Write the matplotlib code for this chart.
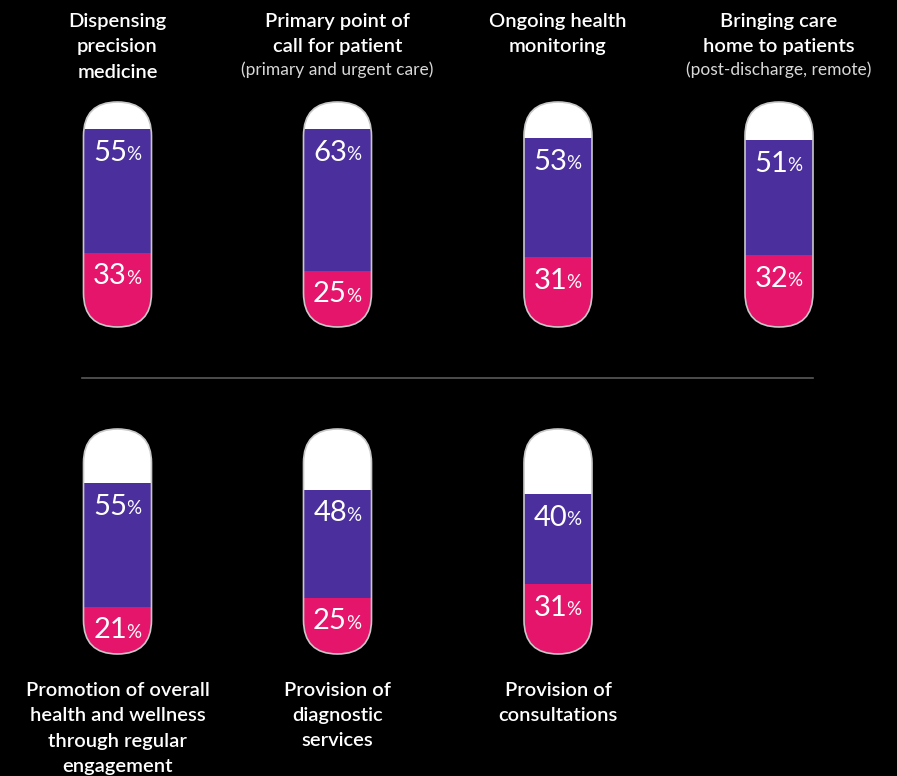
import matplotlib
matplotlib.use("Agg")
import matplotlib.pyplot as plt
from matplotlib.patches import FancyBboxPatch

plt.rcParams['font.family'] = ['Lato', 'DejaVu Sans']

# data
titles = ["Dispensing\nprecision\nmedicine",
          "Primary point of\ncall for patient",
          "Ongoing health\nmonitoring",
          "Bringing care\nhome to patients",
          "Promotion of overall\nhealth and wellness\nthrough regular\nengagement",
          "Provision of\ndiagnostic\nservices",
          "Provision of\nconsultations"]
subtitles = ["", "(primary and urgent care)", "", "(post-discharge, remote)", "", "", ""]
purple_vals = [55, 63, 53, 51, 55, 48, 40]
pink_vals = [33, 25, 31, 32, 21, 25, 31]

PURPLE = '#4b2f9c'
PINK = '#e4156b'
EDGE = '#c8c8c8'

W, H = 897, 776
fig = plt.figure(figsize=(W / 100, H / 100), dpi=100, facecolor='black')

# background axes in pixel units for text and divider
bg = fig.add_axes([0, 0, 1, 1])
bg.set_xlim(0, W)
bg.set_ylim(H, 0)
bg.axis('off')
bg.set_facecolor('black')

centers = [117.5, 337.5, 558, 779, 117.5, 337.5, 558]
pw, ph = 68, 225
tops = [102, 102, 102, 102, 429, 429, 429]
line_h = 25.5

for i in range(7):
    cx, top = centers[i], tops[i]
    ax = fig.add_axes([(cx - pw / 2) / W, 1 - (top + ph) / H, pw / W, ph / H])
    w = 100 * pw / ph
    ax.set_xlim(0, w)
    ax.set_ylim(0, 100)
    ax.axis('off')
    pk, pu = pink_vals[i], purple_vals[i]
    capsule = FancyBboxPatch((0, 0), w, 100, boxstyle="round,pad=0,rounding_size=%f" % (w / 2),
                             transform=ax.transData, facecolor='none', edgecolor='none')
    ax.add_patch(capsule)
    bars = []
    bars += ax.bar(w / 2, pk, width=w, color=PINK, linewidth=0)
    bars += ax.bar(w / 2, pu, bottom=pk, width=w, color=PURPLE, linewidth=0)
    bars += ax.bar(w / 2, 100 - pk - pu, bottom=pk + pu, width=w, color='white', linewidth=0)
    for b in bars:
        b.set_clip_path(capsule)
    outline = FancyBboxPatch((0, 0), w, 100, boxstyle="round,pad=0,rounding_size=%f" % (w / 2),
                             transform=ax.transData, facecolor='none', edgecolor=EDGE,
                             linewidth=1.2, clip_on=False, zorder=5)
    ax.add_patch(outline)

    # value labels
    for val, seg_top in [(pu, pk + pu), (pk, pk)]:
        ax.annotate(str(val), xy=(w / 2, seg_top), xytext=(6.8, -17.0), textcoords='offset points',
                    ha='right', va='center', color='white', fontsize=21, fontweight='normal',
                    zorder=10)
        ax.annotate('%', xy=(w / 2, seg_top), xytext=(6.2, -18.3), textcoords='offset points',
                    ha='left', va='center', color='white', fontsize=13.5, fontweight='normal',
                    zorder=10)

    # titles
    lines = titles[i].split('\n')
    if i < 4:
        y0 = 21
    else:
        y0 = 690
    for j, ln in enumerate(lines):
        bg.text(cx, y0 + j * line_h, ln, ha='center', va='center', color='white',
                fontsize=14.5, fontweight='semibold')
    if subtitles[i]:
        bg.text(cx, y0 + len(lines) * line_h - 2, subtitles[i], ha='center', va='center',
                color='#d8d8d8', fontsize=12.5, fontweight='normal')

bg.plot([82, 813], [378, 378], color='#5a5a5a', linewidth=1.2)

fig.savefig('out.png', dpi=100, facecolor='black')
